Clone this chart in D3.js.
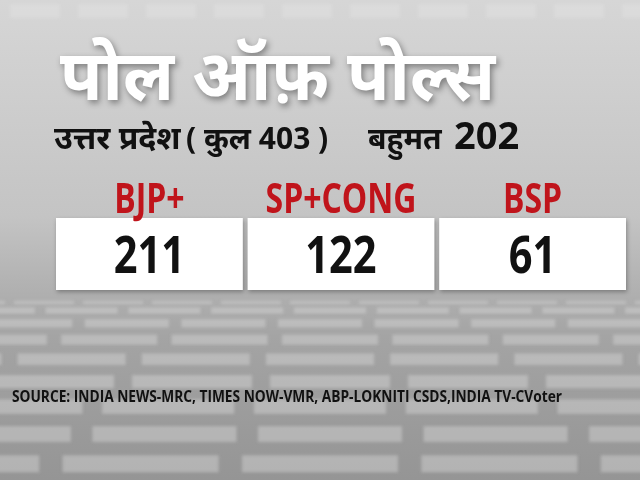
<!DOCTYPE html>
<html><head><meta charset="utf-8">
<script src="https://cdn.jsdelivr.net/npm/d3@7"></script>
<style>body{margin:0;background:#ccc}svg{display:block}</style>
</head><body>
<svg id="c" width="640" height="480"></svg>
<script>
const parties = ["BJP+", "SP+CONG", "BSP"];
const seats = [211, 122, 61];
const title = "पोल ऑफ़ पोल्स";
const subtitle = ["उत्तर प्रदेश", "( कुल 403 )", "बहुमत", "202"];
const source = "SOURCE: INDIA NEWS-MRC, TIMES NOW-VMR, ABP-LOKNITI CSDS,INDIA TV-CVoter";

const svg = d3.select("#c");
const defs = svg.append("defs");
const g = defs.append("linearGradient").attr("id","bg").attr("x1",0).attr("y1",0).attr("x2",0).attr("y2",1);
g.append("stop").attr("offset","0").attr("stop-color","#d6d6d6");
g.append("stop").attr("offset","0.45").attr("stop-color","#c4c4c4");
g.append("stop").attr("offset","0.7").attr("stop-color","#a4a4a4");
g.append("stop").attr("offset","1").attr("stop-color","#959595");
svg.append("rect").attr("width",640).attr("height",480).attr("fill","url(#bg)");
defs.append("filter").attr("id","blur").append("feGaussianBlur").attr("stdDeviation",1.5);

const fl = svg.append("g").attr("filter","url(#blur)");
const rowY = d3.scalePow().exponent(1.6).domain([0,9]).range([300,480]);
d3.range(0,9).forEach(r=>{
  const y0=rowY(r), y1=rowY(r+1), h=(y1-y0)*0.55;
  const w = 60 + r*12;
  d3.range(-3,10).forEach(c=>{
    fl.append("rect").attr("x",320+(c-3)*w*1.15 - w/2 + (r%2)*10).attr("y",y0+(y1-y0)*0.2)
      .attr("width",w).attr("height",h).attr("fill","#d8d8d8").attr("opacity",0.45);
  });
});
d3.range(0,10).forEach(c=>{
  fl.append("rect").attr("x",c*68+10).attr("y",4).attr("width",50).attr("height",14).attr("fill","#e2e2e2").attr("opacity",0.5);
});

const dev = "'Noto Sans','Noto Sans Devanagari','Lohit Devanagari',sans-serif";
svg.append("text").attr("x",60).attr("y",100).attr("font-family",dev).attr("font-weight","bold")
  .attr("font-size",70).attr("fill","#fff").attr("textLength",435).attr("lengthAdjust","spacingAndGlyphs")
  .style("filter","drop-shadow(2px 3px 3px rgba(0,0,0,0.4))").text(title);

const sub = svg.append("text").attr("y",149).attr("font-family",dev).attr("font-weight","bold").attr("fill","#111");
sub.append("tspan").attr("x",54).attr("font-size",32).text(subtitle[0]);
sub.append("tspan").attr("x",186).attr("font-size",30).text(subtitle[1]);
sub.append("tspan").attr("x",368).attr("font-size",30).text(subtitle[2]);
sub.append("tspan").attr("x",454).attr("font-size",38).text(subtitle[3]);

const x = d3.scaleBand().domain(parties).range([56,626]).paddingInner(0.025);
const sx = (d,s)=>{const cx=x(d)+x.bandwidth()/2;return `translate(${cx},0) scale(${s},1) translate(${-cx},0)`;};
const grp = svg.selectAll("g.p").data(parties).join("g");
grp.append("rect").attr("x",d=>x(d)).attr("y",218).attr("width",x.bandwidth()).attr("height",72)
  .attr("fill","#fff").style("filter","drop-shadow(1px 2px 2px rgba(0,0,0,0.3))");
grp.append("text").attr("x",d=>x(d)+x.bandwidth()/2).attr("y",213).attr("text-anchor","middle")
  .attr("font-family","'Open Sans',sans-serif").attr("font-weight","bold").attr("font-size",41)
  .attr("fill","#c0141b").attr("transform",d=>sx(d,0.78)).text(d=>d);
grp.append("text").attr("x",d=>x(d)+x.bandwidth()/2).attr("y",273).attr("text-anchor","middle")
  .attr("font-family","'Open Sans',sans-serif").attr("font-weight","bold").attr("font-size",52)
  .attr("fill","#111").attr("transform",d=>sx(d,0.8)).text((d,i)=>seats[i]);

svg.append("text").attr("x",12).attr("y",402).attr("font-family","'Open Sans',sans-serif").attr("font-weight","bold")
  .attr("font-size",16).attr("fill","#111").attr("textLength",550).attr("lengthAdjust","spacingAndGlyphs").text(source);
</script></body></html>
